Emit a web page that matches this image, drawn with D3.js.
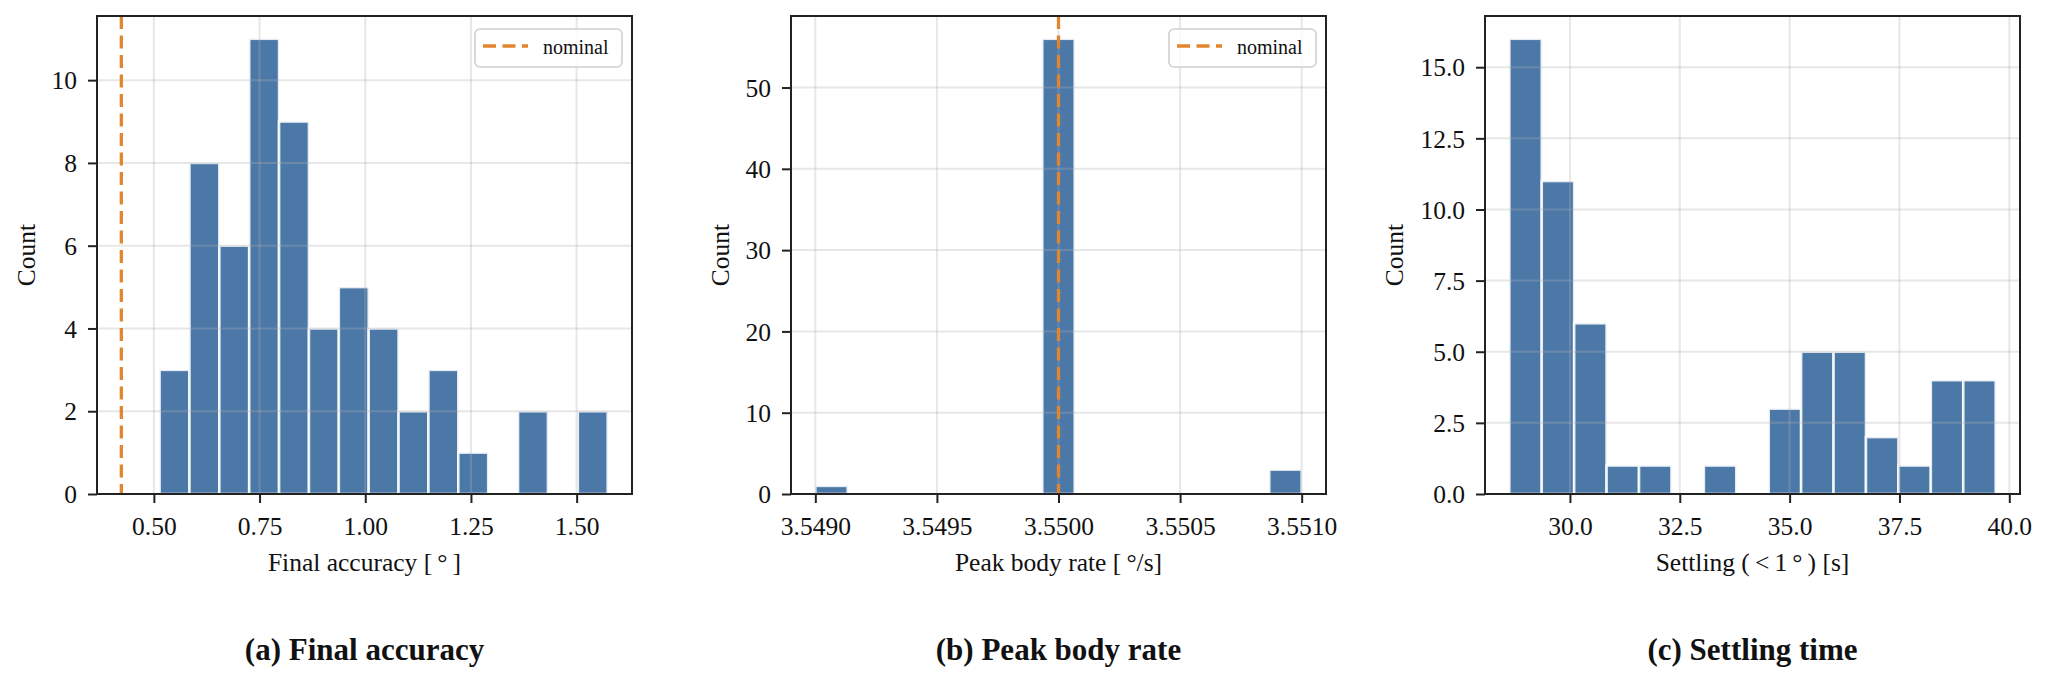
<!DOCTYPE html>
<html>
<head>
<meta charset="utf-8">
<script src="https://cdn.jsdelivr.net/npm/d3@7"></script>
<style>
  body { margin: 0; background: #fff; }
  svg text { font-family: 'Liberation Serif', 'Times New Roman', serif; fill: #111; }
</style>
</head>
<body>
<svg id="fig" width="2046" height="684"></svg>
<script>
// (a) final accuracy histogram
const accuracyCounts = [3, 8, 6, 11, 9, 4, 5, 4, 2, 3, 1, 0, 2, 0, 2]
const accuracyRange = [0.5135, 1.5734]
const accuracyNominal = 0.423
const accuracyXTicks = [0.50, 0.75, 1.00, 1.25, 1.50]
const accuracyYTicks = [0, 2, 4, 6, 8, 10]

// (b) peak body rate histogram
const rateCounts = [1, 0, 0, 0, 0, 0, 0, 56, 0, 0, 0, 0, 0, 0, 3]
const rateRange = [3.5490, 3.5510]
const rateNominal = 3.5500
const rateXTicks = [3.5490, 3.5495, 3.5500, 3.5505, 3.5510]
const rateYTicks = [0, 10, 20, 30, 40, 50]

// (c) settling time histogram
const settlingCounts = [16, 11, 6, 1, 1, 0, 1, 0, 3, 5, 5, 2, 1, 4, 4]
const settlingRange = [28.62, 39.69]
const settlingXTicks = [30.0, 32.5, 35.0, 37.5, 40.0]
const settlingYTicks = [0, 2.5, 5.0, 7.5, 10.0, 12.5, 15.0]

const panels = [
  { left: 97, counts: accuracyCounts, range: accuracyRange, nominal: accuracyNominal,
    xTicks: accuracyXTicks, yTicks: accuracyYTicks, xFmt: d3.format('.2f'), yFmt: d3.format('d'),
    xLabel: 'Final accuracy [\u2009°\u2009]', title: '(a) Final accuracy' },
  { left: 791, counts: rateCounts, range: rateRange, nominal: rateNominal,
    xTicks: rateXTicks, yTicks: rateYTicks, xFmt: d3.format('.4f'), yFmt: d3.format('d'),
    xLabel: 'Peak body rate [\u2009°/s]', title: '(b) Peak body rate' },
  { left: 1485, counts: settlingCounts, range: settlingRange, nominal: null,
    xTicks: settlingXTicks, yTicks: settlingYTicks, xFmt: d3.format('.1f'), yFmt: d3.format('.1f'),
    xLabel: 'Settling (\u2009<\u20091\u2009°\u2009) [s]', title: '(c) Settling time' }
]

const svg = d3.select('#fig')
const plotTop = 16
const plotBottom = 494
const panelWidth = 535
const barColor = '#4c78a8'
const nominalColor = '#e1862d'
const inkColor = '#222'

panels.forEach(p => {
  const g = svg.append('g')
  const n = p.counts.length
  const step = (p.range[1] - p.range[0]) / n
  const bins = p.counts.map((c, i) => ({ x0: p.range[0] + i * step, x1: p.range[0] + (i + 1) * step, count: c }))

  // matplotlib-like 5% margins, including the nominal line
  let lo = p.range[0], hi = p.range[1]
  if (p.nominal !== null) { lo = Math.min(lo, p.nominal); hi = Math.max(hi, p.nominal) }
  const pad = (hi - lo) * 0.05

  const x = d3.scaleLinear().domain([lo - pad, hi + pad]).range([p.left, p.left + panelWidth])
  const y = d3.scaleLinear().domain([0, d3.max(p.counts) * 1.05]).range([plotBottom, plotTop])

  // bars
  g.selectAll('rect.bar')
    .data(bins.filter(b => b.count > 0))
    .enter()
    .append('rect')
    .attr('class', 'bar')
    .attr('x', d => x(d.x0))
    .attr('width', d => x(d.x1) - x(d.x0))
    .attr('y', d => y(d.count))
    .attr('height', d => y(0) - y(d.count))
    .attr('fill', barColor)
    .attr('stroke', '#fff')
    .attr('stroke-opacity', 0.85)
    .attr('stroke-width', 2.6)

  // grid over the bars
  const grid = g.append('g')
    .attr('stroke', '#b0b0b0')
    .attr('stroke-opacity', 0.3)
    .attr('stroke-width', 2)
  grid.selectAll('line.gx')
    .data(p.xTicks)
    .enter()
    .append('line')
    .attr('x1', d => x(d)).attr('x2', d => x(d))
    .attr('y1', plotTop).attr('y2', plotBottom)
  grid.selectAll('line.gy')
    .data(p.yTicks)
    .enter()
    .append('line')
    .attr('x1', p.left).attr('x2', p.left + panelWidth)
    .attr('y1', d => y(d)).attr('y2', d => y(d))

  // nominal line
  if (p.nominal !== null) {
    g.append('line')
      .attr('x1', x(p.nominal)).attr('x2', x(p.nominal))
      .attr('y1', plotTop).attr('y2', plotBottom)
      .attr('stroke', nominalColor)
      .attr('stroke-width', 3.3)
      .attr('stroke-dasharray', '13,6.5')
  }

  // axes
  const xAxis = g.append('g')
    .attr('transform', `translate(0, ${plotBottom})`)
    .call(d3.axisBottom(x).tickValues(p.xTicks).tickFormat(p.xFmt).tickSize(9).tickPadding(12))
  const yAxis = g.append('g')
    .attr('transform', `translate(${p.left}, 0)`)
    .call(d3.axisLeft(y).tickValues(p.yTicks).tickFormat(p.yFmt).tickSize(9).tickPadding(11))

  ;[xAxis, yAxis].forEach(ax => {
    ax.attr('font-family', null).attr('font-size', null)
    ax.select('.domain').remove()
    ax.selectAll('.tick line').attr('stroke', inkColor).attr('stroke-width', 2)
    ax.selectAll('.tick text').attr('font-size', '25.5px').attr('fill', '#111')
  })
  xAxis.selectAll('.tick text').attr('dy', '0.78em')
  yAxis.selectAll('.tick text').attr('dy', '0.34em')

  // frame
  g.append('rect')
    .attr('x', p.left).attr('y', plotTop)
    .attr('width', panelWidth).attr('height', plotBottom - plotTop)
    .attr('fill', 'none')
    .attr('stroke', inkColor)
    .attr('stroke-width', 2)

  // y label, placed left of the widest tick label
  let maxW = 0
  yAxis.selectAll('.tick text').each(function () { maxW = Math.max(maxW, this.getComputedTextLength()) })
  const labelX = p.left - 9 - 11 - maxW - 17
  g.append('text')
    .text('Count')
    .attr('transform', `translate(${labelX}, ${(plotTop + plotBottom) / 2}) rotate(-90)`)
    .attr('text-anchor', 'middle')
    .attr('font-size', '25.5px')

  // x label and subplot title
  const cx = p.left + panelWidth / 2
  g.append('text')
    .text(p.xLabel)
    .attr('x', cx).attr('y', 571)
    .attr('text-anchor', 'middle')
    .attr('font-size', '25.5px')
  g.append('text')
    .text(p.title)
    .attr('x', cx).attr('y', 660)
    .attr('text-anchor', 'middle')
    .attr('font-size', '31px')
    .attr('font-weight', 'bold')

  // legend
  if (p.nominal !== null) {
    const lx = p.left + panelWidth - 10 - 147
    const ly = plotTop + 13
    const legend = g.append('g').attr('transform', `translate(${lx}, ${ly})`)
    legend.append('rect')
      .attr('width', 147).attr('height', 38)
      .attr('rx', 5)
      .attr('fill', '#fff').attr('fill-opacity', 0.8)
      .attr('stroke', '#d0d0d0').attr('stroke-width', 1.6)
    legend.append('line')
      .attr('x1', 8).attr('x2', 53)
      .attr('y1', 17).attr('y2', 17)
      .attr('stroke', nominalColor)
      .attr('stroke-width', 3.3)
      .attr('stroke-dasharray', '13,6.5')
    legend.append('text')
      .text('nominal')
      .attr('x', 68).attr('y', 24.5)
      .attr('font-size', '20px')
  }
})
</script>
</body>
</html>
